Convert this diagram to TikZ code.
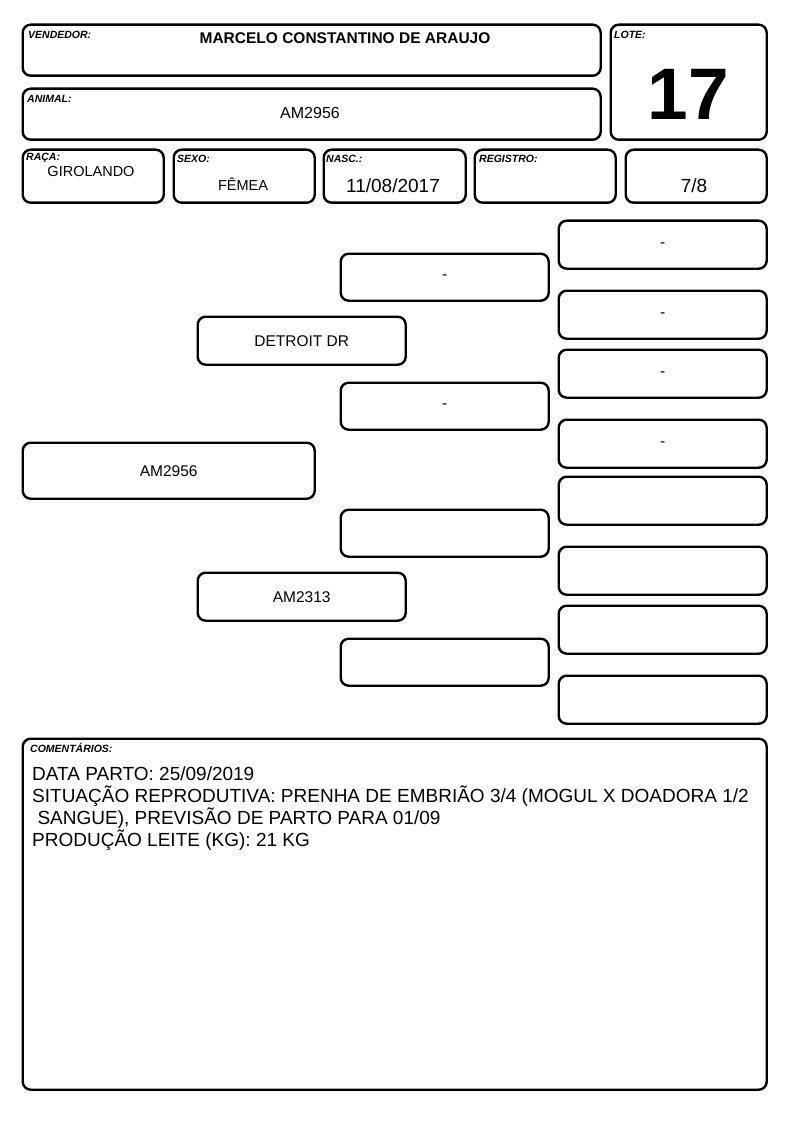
\documentclass[tikz,border=0pt]{standalone}
\usepackage{fontspec}
\setmainfont{Liberation Sans}
\usetikzlibrary{positioning,calc}
\newcommand\fsz[1]{\fontsize{#1}{#1}\selectfont}

\begin{document}
\begin{tikzpicture}[
  x=1pt, y=-1pt,
  bx/.style={draw, line width=2.4pt, rounded corners=8pt, anchor=north west,
             inner sep=0pt, align=center},
  tag/.style={anchor=base west, inner sep=0pt, font=\bfseries\itshape\fsz{10.5}},
  val/.style={inner sep=0pt, font=\fsz{15}},
  ped/.style={bx, minimum width=208pt, minimum height=48pt, font=\fsz{15.5}}]
\useasboundingbox (0,0) rectangle (794,1123);

% header
\node[bx, minimum width=578pt, minimum height=51pt] (vend) at (21.5,23.5) {};
\node[bx, minimum width=578pt, minimum height=51pt] (anim) at (21.5,87.5) {};
\node[bx, minimum width=156pt, minimum height=115pt] (lote) at (609.5,23.5) {};
\node[tag] at (28,39) {VENDEDOR:};
\node[val, font=\bfseries\fsz{15.5}] (vendnm) at (345,38) {MARCELO CONSTANTINO DE ARAUJO};
\node[tag] at (27,103) {ANIMAL:};
\node[val, font=\fsz{16}] (animnm) at (310,113) {AM2956};
\node[tag] at (614,39) {LOTE:};
\node[val, font=\bfseries\fsz{73}] (lotenr) at (688,94) {17};

% dados
\node[bx, minimum width=141pt, minimum height=53pt] (raca) at (21.5,148.5) {};
\node[bx, minimum width=141pt, minimum height=53pt] (sexo) at (172.5,148.5) {};
\node[bx, minimum width=142pt, minimum height=53pt] (nasc) at (322.5,148.5) {};
\node[bx, minimum width=141pt, minimum height=53pt] (reg) at (473.5,148.5) {};
\node[bx, minimum width=141pt, minimum height=53pt] (grau) at (624.5,148.5) {};
\node[tag] at (26,161) {RAÇA:};
\node[val, font=\fsz{14.5}] at (91,172) {GIROLANDO};
\node[tag] at (177,163) {SEXO:};
\node[val, font=\fsz{14.5}] at (243,184) {FÊMEA};
\node[tag] at (326,163) {NASC.:};
\node[val, font=\fsz{19}] at (393,186) {11/08/2017};
\node[tag] at (479,163) {REGISTRO:};
\node[val, font=\fsz{19}] at (694,186) {7/8};

% pedigree
\node[ped, minimum width=292pt, minimum height=56pt] (p1) at (21.5,441.5) {AM2956};
\node[ped] (p2a) at (196.5,315.5) {DETROIT DR};
\node[ped] (p2b) at (196.5,571.5) {AM2313};
\node[ped, minimum height=47pt] (p3a) at (339.5,252.5) {-};
\node[ped, minimum height=47pt] (p3b) at (339.5,381.5) {-};
\node[ped, minimum height=47pt] (p3c) at (339.5,508.5) {};
\node[ped, minimum height=47pt] (p3d) at (339.5,637.5) {};
\node[ped] (p4a) at (557.5,219.5) {-};
\node[ped] (p4b) at (557.5,289.5) {-};
\node[ped] (p4c) at (557.5,348.5) {-};
\node[ped] (p4d) at (557.5,418.5) {-};
\node[ped] (p4e) at (557.5,475.5) {};
\node[ped] (p4f) at (557.5,545.5) {};
\node[ped] (p4g) at (557.5,604.5) {};
\node[ped] (p4h) at (557.5,674.5) {};

% comentarios
\node[bx, minimum width=744pt, minimum height=351pt] (coment) at (21.5,737.5) {};
\node[tag] at (30,752) {COMENTÁRIOS:};
\node[anchor=north west, inner sep=0pt, align=left, font=\fontsize{19}{22}\selectfont] (obs) at (32,767)
  {DATA PARTO: 25/09/2019\\
   SITUAÇÃO REPRODUTIVA: PRENHA DE EMBRIÃO 3/4 (MOGUL X DOADORA 1/2\\
   \hspace*{0.28em}SANGUE), PREVISÃO DE PARTO PARA 01/09\\
   PRODUÇÃO LEITE (KG): 21 KG};
\end{tikzpicture}
\end{document}
